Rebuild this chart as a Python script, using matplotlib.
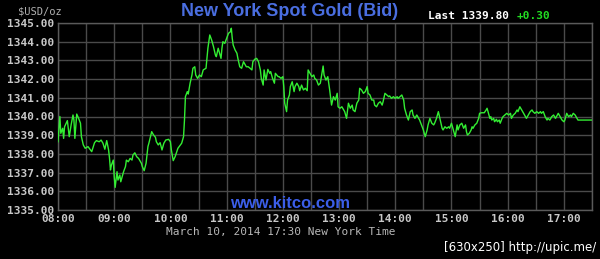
import matplotlib
matplotlib.use("Agg")
import matplotlib.pyplot as plt
from matplotlib.ticker import FixedLocator, FuncFormatter

# minutes since 08:00 and bid price
minutes = [0, 2, 3, 5, 6, 7, 10, 12, 14, 16, 17, 18, 20, 22, 24, 25, 27, 29, 32, 36,
           39, 41, 44, 46, 48, 50, 52, 54, 55, 56, 57, 59, 60, 61, 63, 64, 66, 67, 70, 72,
           73, 75, 77, 79, 80, 82, 84, 86, 89, 90, 92, 94, 96, 97, 100, 102, 104, 105, 107, 109,
           111, 113, 115, 118, 120, 121, 123,
           125, 128, 132, 134, 135, 136, 138, 139, 141, 143, 144, 146, 147, 149, 151, 153, 155, 158,
           159, 160, 162, 164, 166, 168, 169, 171, 173, 174, 175, 176, 178, 180, 182, 184, 185, 186,
           187, 189, 191, 192, 194, 196, 198, 200, 201, 203, 205, 207, 208, 210, 212, 214, 216, 217,
           219, 220, 222, 224, 226, 227, 229, 231, 232, 235, 236, 238, 240, 241, 242, 244, 245, 247,
           248, 250, 252, 253, 255, 257, 258, 260, 262, 264, 266, 267, 269, 271, 273, 274, 276, 278,
           280, 283, 284, 286, 288, 289, 290, 292, 294, 296, 298, 299, 301, 303, 305, 306, 308, 310,
           312, 314, 315, 317, 319, 321, 322, 324, 326, 328, 330, 331, 333, 335, 337, 338, 340, 342,
           344, 346, 347, 349, 351, 353, 354, 356, 358, 360, 362, 363, 365, 367, 369, 370, 372, 374,
           376, 378, 379, 381, 383, 385, 386, 388, 390, 392, 394, 395, 397, 399, 401, 402, 404, 406,
           408, 410, 411, 413, 415, 417, 418, 420, 422, 424, 426, 427,
           429, 431, 433, 435, 436, 437, 439, 441, 442, 443, 445, 447, 449, 450, 452, 453, 455, 457,
           458, 459, 461, 462, 463, 465, 466, 468, 469, 471, 472, 474, 475, 477, 479, 481, 483, 484,
           486, 488, 490, 491, 493, 495, 497, 499, 500, 502, 504, 506, 507, 509, 511, 513, 515, 516,
           518, 520, 522, 523, 525, 527, 529, 531, 532, 534, 536, 538, 540, 541, 543, 545, 547, 548,
           550, 552, 554, 555, 570]
prices = [1338.65, 1340.00, 1339.10, 1339.37, 1338.83, 1339.45, 1339.78, 1338.92, 1339.55, 1340.08,
          1339.81, 1338.83, 1340.13, 1339.90, 1339.64, 1338.92, 1338.48, 1338.30, 1338.39, 1338.12,
          1338.60, 1338.71, 1338.65, 1338.74, 1338.57, 1338.25, 1338.71, 1338.21, 1337.76, 1337.14,
          1337.40, 1337.67, 1336.78, 1336.21, 1337.05, 1336.60, 1336.87, 1336.51, 1337.05, 1337.32,
          1337.67, 1337.58, 1337.76, 1337.67, 1337.94, 1338.06, 1337.85, 1337.76, 1337.50, 1337.32,
          1337.10, 1337.50, 1338.39, 1338.57, 1339.19, 1339.01, 1338.89, 1338.65, 1338.48, 1338.60,
          1338.21, 1338.57, 1338.74, 1338.78, 1338.65, 1338.21, 1337.64,
          1337.85, 1338.30, 1338.57, 1338.92, 1339.81, 1341.06, 1341.33, 1341.20, 1341.78, 1342.22,
          1342.58, 1342.66, 1342.22, 1342.04, 1342.22, 1342.13, 1342.49, 1342.58,
          1343.11, 1343.65, 1344.36, 1344.09, 1343.73, 1343.29, 1343.20, 1343.65, 1343.29, 1343.11,
          1343.65, 1344.00, 1343.91, 1344.18, 1344.45, 1344.53, 1344.72, 1344.18,
          1343.82, 1343.56, 1343.38, 1343.11, 1342.66, 1342.58, 1342.93, 1342.75, 1342.66, 1342.66,
          1342.58, 1342.49, 1342.93, 1343.06, 1343.11, 1342.93, 1342.49, 1342.04,
          1341.68, 1342.49, 1341.95, 1342.52, 1342.31, 1342.40, 1342.04, 1341.78, 1342.31, 1342.13,
          1342.13, 1342.04, 1342.13, 1341.60, 1340.71, 1340.26, 1340.88, 1341.15,
          1341.60, 1341.86, 1341.33, 1341.60, 1341.78, 1341.60, 1341.38, 1341.68, 1341.42, 1341.51,
          1341.38, 1342.49, 1342.31, 1342.13, 1342.22, 1342.04, 1341.95, 1341.68,
          1341.78, 1342.70, 1342.22, 1341.95, 1342.13, 1341.78, 1341.42, 1340.61, 1341.06, 1340.88,
          1341.24, 1340.52, 1340.44, 1340.52, 1340.35, 1340.26, 1339.90, 1340.71,
          1340.44, 1340.61, 1340.35, 1340.26, 1340.71, 1340.88, 1341.51, 1341.42, 1341.24, 1341.33,
          1341.60, 1341.24, 1341.15, 1340.88, 1340.88, 1340.61, 1340.52, 1340.71,
          1340.79, 1340.61, 1340.79, 1341.24, 1341.15, 1341.06, 1341.10, 1340.97, 1341.06, 1340.97,
          1341.06, 1340.97, 1341.06, 1341.15, 1340.88, 1340.44, 1340.08, 1339.81,
          1340.26, 1340.35, 1340.08, 1339.90, 1340.08, 1339.90, 1339.81, 1339.55, 1339.28, 1338.92,
          1339.28, 1339.55, 1339.90, 1339.64, 1339.55, 1339.64, 1339.90, 1340.26,
          1339.81, 1339.37, 1339.28, 1339.45, 1339.37, 1339.45, 1339.37, 1339.64, 1339.28, 1338.92,
          1339.55, 1339.28,
          1339.55, 1339.64, 1339.37, 1339.55, 1339.19, 1339.01, 1339.10, 1339.28, 1339.45, 1339.37,
          1339.55, 1339.64, 1339.90, 1340.17, 1340.20, 1340.20, 1340.20, 1340.35,
          1340.44, 1340.26, 1339.90, 1339.99, 1339.81, 1339.90, 1339.72, 1339.85, 1339.72, 1339.81,
          1339.64, 1339.90, 1339.99, 1340.08, 1340.17, 1340.08, 1340.17, 1339.90,
          1340.08, 1340.17, 1340.35, 1340.26, 1340.52, 1340.35, 1340.17, 1339.99, 1339.90, 1340.08,
          1340.26, 1340.35, 1340.26, 1340.17, 1340.26, 1340.17, 1340.26, 1340.17,
          1340.26, 1339.99, 1339.81, 1339.90, 1339.81, 1339.99, 1340.08, 1339.90, 1339.99, 1340.17,
          1339.99, 1339.81, 1339.72, 1339.81, 1340.17, 1339.99, 1340.08, 1339.99,
          1340.17, 1340.08, 1339.90, 1339.81, 1339.81]

y_ticks = [1335, 1336, 1337, 1338, 1339, 1340, 1341, 1342, 1343, 1344, 1345]
x_label_ticks = [0, 60, 120, 180, 240, 300, 360, 420, 480, 540]
x_grid_ticks = list(range(0, 571, 30))

title = "New York Spot Gold (Bid)"
last_text = "Last 1339.80"
change_text = "+0.30"
date_text = "March 10, 2014 17:30 New York Time"

fig = plt.figure(figsize=(6.0, 2.59), dpi=100, facecolor="black")
ax = fig.add_axes([58/600, 49/259, 534/600, 187/259])
ax.set_facecolor("black")

grid_color = "#4a4a4a"
for xv in x_grid_ticks:
    ax.axvline(xv, color=grid_color, lw=1.0, zorder=1)
for yv in y_ticks:
    ax.axhline(yv, color=grid_color, lw=1.0, zorder=1)

ax.plot(minutes, prices, color="#33ee33", lw=1.0, zorder=3)

ax.set_xlim(0, 570)
ax.set_ylim(1335, 1345)
for s in ax.spines.values():
    s.set_color("#5a5a5a")
    s.set_linewidth(1.0)

mono = dict(family="DejaVu Sans Mono", weight="bold", size=8)
ax.yaxis.set_major_locator(FixedLocator(y_ticks))
ax.yaxis.set_major_formatter(FuncFormatter(lambda v, p: f"{v:.2f}"))
ax.xaxis.set_major_locator(FixedLocator(x_label_ticks))
ax.xaxis.set_major_formatter(FuncFormatter(lambda v, p: f"{8 + int(v) // 60:02d}:{int(v) % 60:02d}"))
ax.tick_params(length=0, colors="#c8c8c8", pad=3)
for lab in ax.get_yticklabels() + ax.get_xticklabels():
    lab.set_fontfamily("DejaVu Sans Mono")
    lab.set_fontweight("bold")
    lab.set_fontsize(8)
    lab.set_color("#c8c8c8")

fig.text(290/600, 1 - 12/259, title, ha="center", va="center", color="#4a6ee0",
         fontsize=13, fontweight="bold", family="Liberation Sans")
fig.text(18/600, 1 - 11/259, "$USD/oz", ha="left", va="center", color="#b0b0b0",
         family="DejaVu Sans Mono", fontsize=7.5)
fig.text(428/600, 1 - 16/259, last_text, ha="left", va="center", color="white", **mono)
fig.text(517/600, 1 - 16/259, change_text, ha="left", va="center", color="#22dd22", **mono)
fig.text(290/600, 1 - 203/259, "www.kitco.com", ha="center", va="center", color="#3b5ee8",
         fontsize=12, fontweight="bold", family="Liberation Sans")
fig.text(281/600, 1 - 232/259, date_text, ha="center", va="center", color="#b8b8b8",
         family="DejaVu Sans Mono", fontsize=8)
fig.text(596/600, 1 - 248/259, "[630x250] http://upic.me/", ha="right", va="center",
         color="white", fontsize=8.5, family="DejaVu Sans")

fig.savefig("out.png", dpi=100, facecolor="black")
